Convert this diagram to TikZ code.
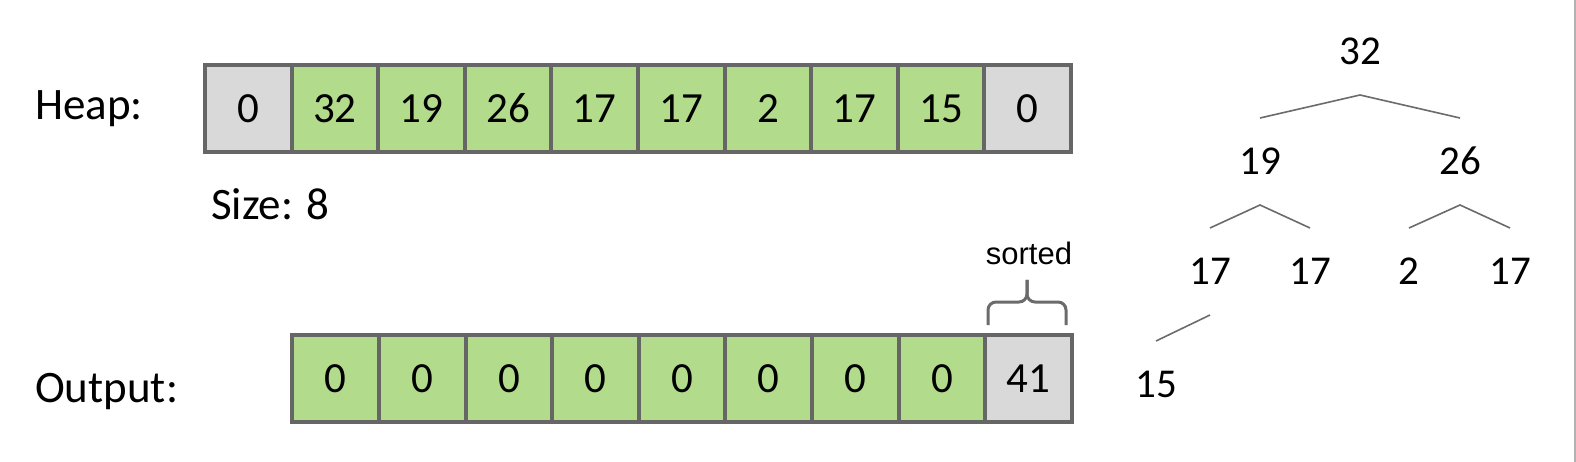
\documentclass[tikz,border=0pt]{standalone}
\usepackage{fontspec}
\setmainfont{Carlito}
\newfontfamily\arialf{Liberation Sans}
\definecolor{cellgreen}{HTML}{B2DB8C}
\definecolor{cellgray}{HTML}{D9D9D9}
\definecolor{bordergray}{HTML}{666666}
\definecolor{linegray}{HTML}{6B6B6B}
\tikzset{
  cell/.style={draw=bordergray, line width=4pt, minimum width=86.6pt, minimum height=87pt,
    inner sep=0pt, outer sep=0pt, font=\fontsize{43}{50}\selectfont},
  gcell/.style={cell, fill=cellgreen},
  ycell/.style={cell, fill=cellgray},
  tnode/.style={inner xsep=0pt, inner ysep=30.5pt, text height=26pt, text depth=0pt,
    outer sep=0pt, font=\fontsize{41}{48}\selectfont},
  tedge/.style={draw=linegray, line width=1.6pt},
  lbl/.style={inner sep=0pt, anchor=base west, font=\fontsize{45}{52}\selectfont},
}
\begin{document}
\begin{tikzpicture}[x=1pt,y=-1pt]
\useasboundingbox (0,0) rectangle (1576,462);
\fill[white] (0,0) rectangle (1576,462);
\draw[gray!60, line width=1.5pt] (1575,0) -- (1575,462);

% labels
\node[lbl] (heaplbl) at (35,120) {Heap:};
\node[lbl] (sizelbl) at (211,220) {Size: 8};
\node[lbl] (outlbl) at (35,402) {Output:};

% heap array
\foreach \v [count=\i from 0] in {0,32,19,26,17,17,2,17,15,0} {
  \ifnum\i=0 \def\st{ycell}\else\ifnum\i=9 \def\st{ycell}\else\def\st{gcell}\fi\fi
  \node[\st] (h\i) at ({205+86.6*\i+43.3},108.5) {\v};
}
% output array
\foreach \v [count=\i from 0] in {0,0,0,0,0,0,0,0,41} {
  \ifnum\i=8 \def\st{ycell}\else\def\st{gcell}\fi
  \node[\st] (o\i) at ({292.4+86.6*\i+43.3},378.5) {\v};
}

% brace + label
\node[inner sep=0pt, anchor=base, font=\arialf\fontsize{31}{36}\selectfont] (sorted) at (1029,265) {sorted};
\draw[draw=linegray, line width=3pt, rounded corners=8pt]
  (988,325) -- (988,302) -- (1027,302) -- (1027,280);
\draw[draw=linegray, line width=3pt, rounded corners=8pt]
  (1066,325) -- (1066,302) -- (1027,302) -- (1027,280);

% tree
\node[tnode] (t32) at (1360,51.5) {32};
\node[tnode] (t19) at (1260,161.5) {19};
\node[tnode] (t26) at (1460,161.5) {26};
\node[tnode] (t17a) at (1210,271.5) {17};
\node[tnode] (t17b) at (1310,271.5) {17};
\node[tnode] (t2) at (1409,271.5) {2};
\node[tnode] (t17c) at (1510,271.5) {17};
\node[tnode] (t15) at (1156,384.5) {15};
\draw[tedge] (t19.north) -- (t32.south) -- (t26.north);
\draw[tedge] (t17a.north) -- (t19.south) -- (t17b.north);
\draw[tedge] (t2.north) -- (t26.south) -- (t17c.north);
\draw[tedge] (t17a.south) -- (t15.north);
\end{tikzpicture}
\end{document}
